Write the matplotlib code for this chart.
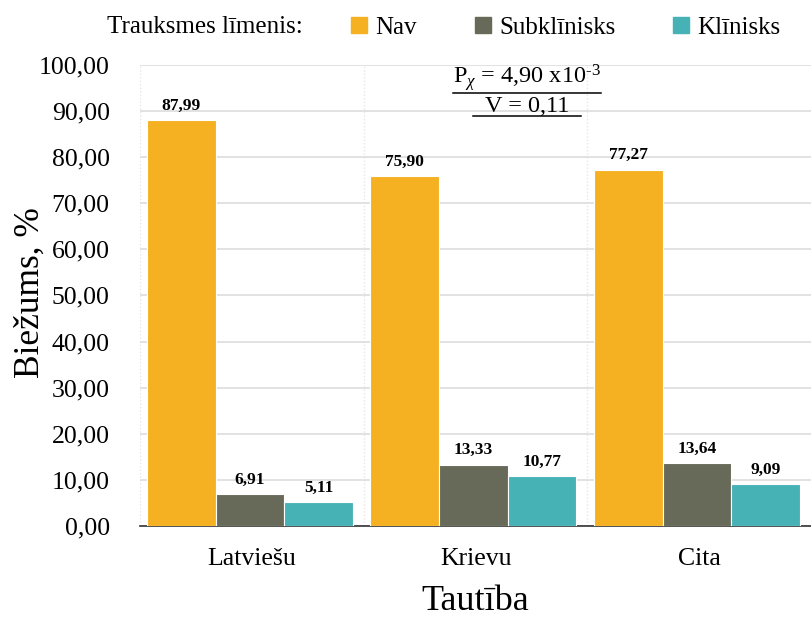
import matplotlib.pyplot as plt
import numpy as np
from matplotlib.lines import Line2D

plt.rcParams['font.family'] = ['Liberation Serif', 'DejaVu Serif']
plt.rcParams['mathtext.fontset'] = 'custom'
plt.rcParams['mathtext.rm'] = 'Liberation Serif'
plt.rcParams['mathtext.it'] = 'Liberation Serif:italic'

groups = ['Latviešu', 'Krievu', 'Cita']
series = ['Nav', 'Subklīnisks', 'Klīnisks']
nav = [87.99, 75.90, 77.27]
subklin = [6.91, 13.33, 13.64]
klin = [5.11, 10.77, 9.09]
colors = ['#F5B122', '#676A58', '#47B2B5']

fig = plt.figure(figsize=(8.11, 6.36), dpi=100)
ax = fig.add_axes([0.173, 0.173, 0.827, 0.725])

x = np.arange(len(groups))
w = 0.307
for i, (vals, c, name) in enumerate(zip([nav, subklin, klin], colors, series)):
    pos = x + (i - 1) * w - 0.01
    bars = ax.bar(pos, vals, w, color=c, edgecolor='white', linewidth=0.8, label=name, zorder=3)
    for b, v in zip(bars, vals):
        ax.text(b.get_x() + b.get_width() / 2, v + 1.4, f'{v:.2f}'.replace('.', ','),
                ha='center', va='bottom', fontsize=12.5, fontweight='bold')

ax.set_xlim(-0.5, 2.5)
ax.set_ylim(0, 100)
ax.set_yticks(np.arange(0, 101, 10))
ax.set_yticklabels([f'{v:.2f}'.replace('.', ',') for v in np.arange(0, 101, 10)], fontsize=18.5)
ax.set_xticks(x)
ax.set_xticklabels(groups, fontsize=18.5)
ax.tick_params(axis='y', length=0, pad=22)
ax.tick_params(axis='x', length=0, pad=16)
ax.yaxis.grid(True, color='#DDDDDD', linewidth=1.2, zorder=0)
for xv in [-0.5, 0.5, 1.5]:
    ax.axvline(xv, color='#E6E6E6', linestyle=(0, (1, 1.5)), linewidth=1, zorder=0)
for s in ['top', 'right', 'left']:
    ax.spines[s].set_visible(False)
ax.spines['bottom'].set_color('#333333')
ax.spines['bottom'].set_linewidth(1.2)

fig.text(30 / 811, 0.54, 'Biežums, %', fontsize=25.5, rotation=90, ha='center', va='center')
ax.set_xlabel('Tautība', fontsize=26, labelpad=11)

# statistics box with underlines
t1 = ax.text(0.577, 0.972, r'P$_\chi$ = 4,90 x10$^{\text{-3}}$', transform=ax.transAxes,
             ha='center', va='center', fontsize=17.5)
t2 = ax.text(0.577, 0.91, 'V = 0,11', transform=ax.transAxes,
             ha='center', va='center', fontsize=17.5)
fig.canvas.draw()
r = fig.canvas.get_renderer()
inv = fig.transFigure.inverted()
for t, extra in ((t1, 0), (t2, 12)):
    bb = t.get_window_extent(r)
    (x0, y0), (x1, y1) = inv.transform([[bb.x0 - extra, bb.y0], [bb.x1 + extra, bb.y1]])
    fig.add_artist(Line2D([x0, x1], [y0 + 0.001, y0 + 0.001], color='black', linewidth=1.1,
                          transform=fig.transFigure))

# legend
fig.text(0.132, 0.957, 'Trauksmes līmenis:', fontsize=18, va='center')
handles = [Line2D([], [], marker='s', linestyle='none', markersize=12, color=c) for c in colors]
fig.legend(handles, series, loc='center left', bbox_to_anchor=(0.433, 0.957), ncol=3,
           frameon=False, fontsize=18, handlelength=0.6, handletextpad=0.35,
           columnspacing=2.35, borderpad=0, borderaxespad=0)

fig.savefig('out.png', dpi=100)
